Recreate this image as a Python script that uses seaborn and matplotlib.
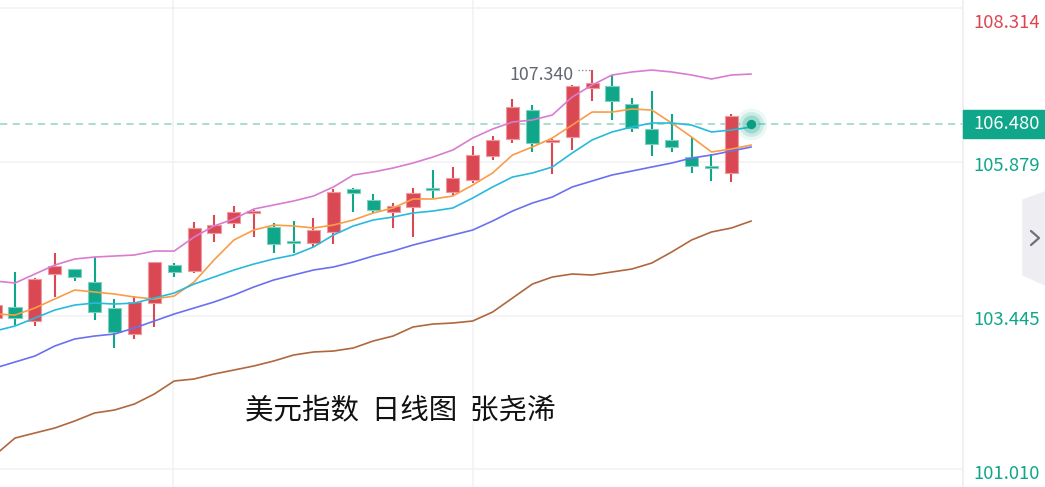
import matplotlib
matplotlib.use("Agg")
import matplotlib.pyplot as plt
import seaborn as sns
import pandas as pd
import numpy as np
from matplotlib.patches import Polygon, Rectangle

# ---------------- data ----------------
candle_idx = list(range(-1, 37))
opens = [103.406, 103.581, 103.359, 104.104, 104.183, 103.977, 103.565, 103.153, 103.644, 104.246,
         104.151, 104.754, 104.912, 105.071, 104.849, 104.611, 104.595, 104.770, 105.451, 105.277,
         105.087, 105.166, 105.467, 105.404, 105.594, 105.974, 106.244, 106.703, 106.196, 106.275,
         107.052, 107.084, 106.798, 106.402, 106.228, 105.958, 105.800, 105.705]
highs = [103.644, 104.136, 104.040, 104.437, 104.190, 104.373, 103.708, 103.755, 104.300, 104.278,
         104.928, 105.039, 105.182, 105.118, 104.912, 104.944, 104.991, 105.451, 105.460, 105.372,
         105.229, 105.467, 105.752, 105.800, 106.133, 106.291, 106.878, 106.782, 106.244, 107.099,
         107.340, 107.258, 106.893, 107.004, 106.640, 106.275, 106.006, 106.640]
lows = [103.375, 103.295, 103.280, 103.739, 103.993, 103.375, 102.931, 103.074, 103.264, 104.056,
        104.120, 104.611, 104.833, 104.690, 104.437, 104.437, 104.532, 104.579, 105.087, 105.071,
        104.833, 104.690, 105.308, 105.356, 105.546, 105.911, 106.180, 106.038, 105.689, 106.069,
        106.846, 106.545, 106.355, 105.974, 106.038, 105.705, 105.578, 105.562]
closes = [103.612, 103.406, 104.025, 104.231, 104.056, 103.501, 103.185, 103.660, 104.294, 104.136,
          104.833, 104.880, 105.087, 105.087, 104.579, 104.595, 104.801, 105.404, 105.388, 105.118,
          105.182, 105.388, 105.435, 105.625, 105.990, 106.228, 106.751, 106.180, 106.228, 107.084,
          107.131, 106.846, 106.418, 106.164, 106.117, 105.816, 105.784, 106.608]

line_idx = list(range(-1, 38))
upper_band = [103.993, 103.961, 104.104, 104.246, 104.342, 104.373, 104.389, 104.405, 104.468, 104.468,
              104.690, 104.865, 104.976, 105.134, 105.198, 105.261, 105.340, 105.483, 105.673, 105.721,
              105.784, 105.863, 105.958, 106.069, 106.259, 106.402, 106.513, 106.545, 106.624, 106.909,
              107.099, 107.258, 107.306, 107.337, 107.306, 107.258, 107.195, 107.258, 107.274]
ma5 = [103.470, 103.454, 103.565, 103.708, 103.850, 103.819, 103.787, 103.739, 103.708, 103.755,
       103.977, 104.326, 104.643, 104.801, 104.880, 104.865, 104.833, 104.880, 104.960, 105.071,
       105.150, 105.293, 105.293, 105.340, 105.514, 105.705, 105.990, 106.117, 106.259, 106.465,
       106.671, 106.671, 106.719, 106.703, 106.497, 106.275, 106.038, 106.085, 106.148]
ma10 = [103.200, 103.280, 103.406, 103.533, 103.612, 103.644, 103.628, 103.644, 103.723, 103.803,
        103.945, 104.056, 104.167, 104.262, 104.342, 104.405, 104.532, 104.722, 104.865, 104.960,
        105.007, 105.071, 105.102, 105.150, 105.308, 105.483, 105.641, 105.705, 105.800, 106.022,
        106.228, 106.355, 106.434, 106.497, 106.497, 106.465, 106.355, 106.386, 106.434]
ma20 = [102.614, 102.709, 102.804, 102.963, 103.074, 103.121, 103.153, 103.248, 103.359, 103.470,
        103.565, 103.660, 103.771, 103.898, 104.009, 104.088, 104.167, 104.215, 104.294, 104.389,
        104.468, 104.563, 104.643, 104.722, 104.801, 104.944, 105.102, 105.229, 105.324, 105.483,
        105.578, 105.673, 105.736, 105.800, 105.863, 105.942, 105.990, 106.053, 106.117]
ma60 = [101.235, 101.504, 101.584, 101.663, 101.774, 101.901, 101.948, 102.043, 102.202, 102.408,
        102.440, 102.519, 102.582, 102.646, 102.725, 102.820, 102.868, 102.883, 102.931, 103.042,
        103.121, 103.264, 103.311, 103.327, 103.359, 103.501, 103.723, 103.945, 104.056, 104.104,
        104.088, 104.136, 104.183, 104.278, 104.453, 104.643, 104.770, 104.833, 104.944]

y_ticks = [108.314, 105.879, 103.445, 101.010]
y_tick_labels = ["108.314", "105.879", "103.445", "101.010"]
current_price = 106.480
current_idx = 37
high_label = "107.340"
high_label_idx = 29
title_text = "美元指数  日线图  张尧浠"

# ---------------- style ----------------
sns.set_theme(style="white")
plt.rcParams["font.family"] = ["Noto Sans CJK SC", "DejaVu Sans"]

RED = "#DA4953"
GREEN = "#0FA68A"
W, H = 1045, 487
fig = plt.figure(figsize=(W / 100, H / 100), dpi=100)
ax = fig.add_axes([0, 0, 963 / W, 1])
ax.set_xlim(-0.754, 47.64)
ax.set_ylim(100.728, 108.447)
ax.set_facecolor("white")
for s in ["top", "left", "bottom"]:
    ax.spines[s].set_visible(False)
ax.spines["right"].set_color("#EDEDF1")
ax.spines["right"].set_linewidth(1.2)
ax.set_xticks([])
ax.set_yticks([])

# grid
for v in y_ticks:
    ax.axhline(v, color="#F1F1F4", lw=1.1, zorder=0)
for xv in [7.95, 23.0]:
    ax.axvline(xv, color="#F1F1F4", lw=1.1, zorder=0)

# candles
o = np.array(opens); c = np.array(closes); hi = np.array(highs); lo = np.array(lows)
xi = np.array(candle_idx)
up = c >= o
cols = np.where(up, RED, GREEN)
edge = np.where(up, "#EE9AA0", "#7FD0BF")
bottoms = np.minimum(o, c)
heights = np.maximum(np.abs(c - o), 0.03)
ax.vlines(xi, lo, hi, colors=cols, lw=1.5, zorder=2)
ax.bar(xi, heights, bottom=bottoms, width=0.66, color=cols, edgecolor=edge, linewidth=0.8, zorder=3)

# moving average / band lines
df = pd.DataFrame({"idx": line_idx, "upper": upper_band, "ma5": ma5, "ma10": ma10,
                   "ma20": ma20, "ma60": ma60})
line_styles = [("upper", "#D97CD1"), ("ma5", "#F99D46"), ("ma10", "#27BADC"),
               ("ma20", "#6B70F0"), ("ma60", "#B0673D")]
for col, color in line_styles:
    sns.lineplot(data=df, x="idx", y=col, ax=ax, color=color, lw=1.2, estimator=None,
                 legend=False, zorder=4)
ax.set_xlabel(""); ax.set_ylabel("")
ax.set_xticks([]); ax.set_yticks([])

# current price dashed line & glowing dot
ax.axhline(current_price, color="#A3DBCE", lw=1.3, ls=(0, (4, 3)), zorder=1)
for s_, a_ in [(520, 0.08), (320, 0.15), (170, 0.25)]:
    ax.scatter([current_idx], [current_price], s=s_, color=GREEN, alpha=a_, lw=0, zorder=5)
ax.scatter([current_idx], [current_price], s=45, color="#0C9C80", lw=0, zorder=6)

# high annotation
ax.plot([high_label_idx - 0.72, high_label_idx - 0.08], [highs[high_label_idx + 1]] * 2,
        color="#8A8E99", lw=1.0, ls=(0, (1, 1.5)), zorder=4)
ax.annotate(high_label, xy=(high_label_idx - 0.95, highs[high_label_idx + 1]),
            xytext=(0, -5), textcoords="offset pixels", ha="right", va="center",
            fontsize=12.8, color="#636773")

# title text
ax.text(0.4154, 0.158, title_text, transform=ax.transAxes, ha="center", va="center",
        fontsize=20.5, color="#111111")

# right axis labels
label_colors = ["#DD4550", GREEN, GREEN, GREEN]
offsets = [-15, -4, -4, -5]
for v, lab, colr, off in zip(y_ticks, y_tick_labels, label_colors, offsets):
    ax.annotate(lab, xy=(1, v), xycoords=("axes fraction", "data"), xytext=(10, off),
                textcoords="offset pixels", ha="left", va="center", fontsize=13.3,
                color=colr, annotation_clip=False)

# current price box
fig.canvas.draw()
_, ypix = ax.transData.transform((0, current_price))
box = Rectangle((963, ypix - 14), W - 963, 28, transform=None, color=GREEN, zorder=10)
fig.patches.append(box)
fig.text(973 / W, ypix / H, f"{current_price:.3f}", ha="left", va="center", fontsize=13.3,
         color="white", zorder=11)

# side tab with chevron
tab = Polygon([(1023, H - 200), (1045, H - 192), (1045, H - 285), (1023, H - 275)],
              closed=True, transform=None, color="#EDEDF2", zorder=10)
fig.patches.append(tab)
fig.lines.append(plt.Line2D([1031, 1039, 1031], [H - 231, H - 238, H - 245], transform=None,
                            color="#6E7079", lw=1.6, zorder=11))

fig.savefig("out.png", dpi=100, facecolor="white")
